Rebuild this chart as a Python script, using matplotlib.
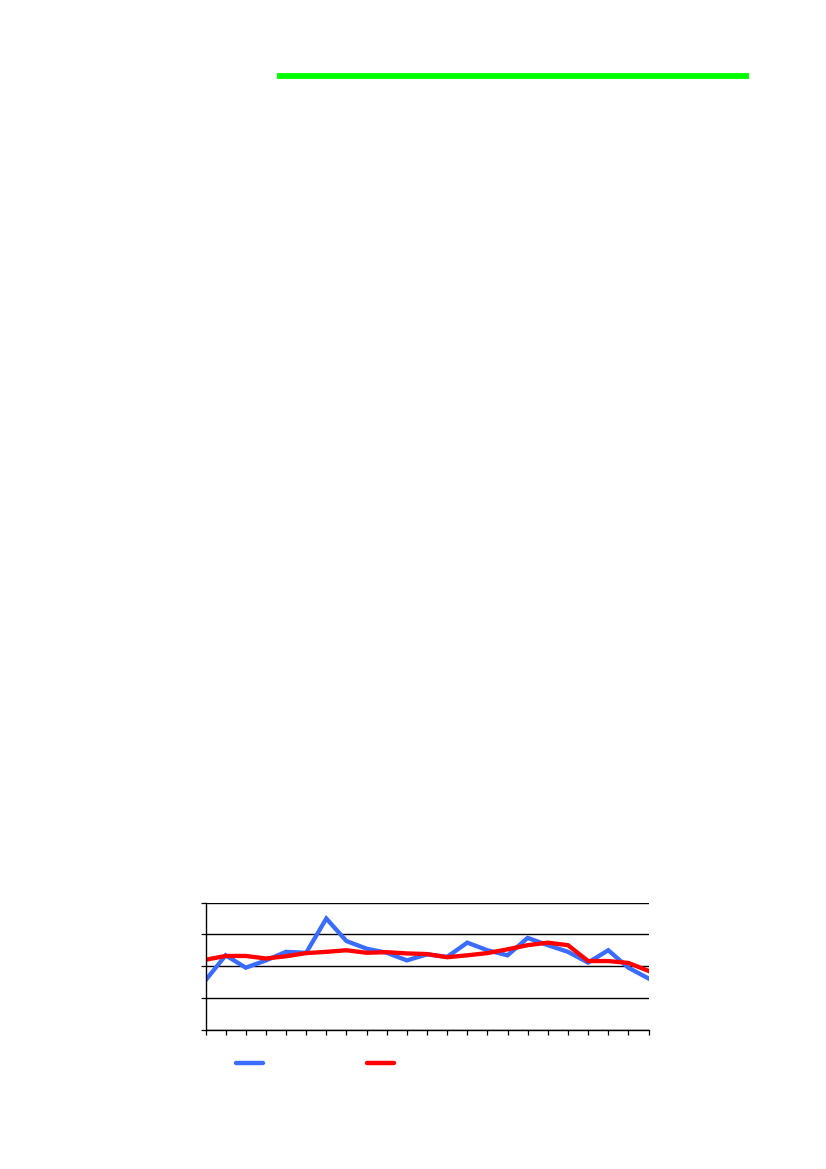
import numpy as np
import matplotlib
matplotlib.use("Agg")
import matplotlib.pyplot as plt
from matplotlib.lines import Line2D

# values (axis runs 0..4)
periods = list(range(23))
series_blue = [1.55, 2.34, 1.95, 2.18, 2.45, 2.42, 3.50, 2.79, 2.55, 2.42, 2.18, 2.37,
               2.29, 2.74, 2.50, 2.34, 2.89, 2.66, 2.45, 2.11, 2.50, 1.95, 1.61]
series_red = [2.20, 2.32, 2.32, 2.24, 2.31, 2.41, 2.45, 2.50, 2.42, 2.44, 2.40, 2.38,
              2.28, 2.34, 2.41, 2.53, 2.66, 2.74, 2.66, 2.16, 2.16, 2.10, 1.85]
y_ticks = [0, 1, 2, 3, 4]

W, H = 826, 1169
fig = plt.figure(figsize=(W / 100, H / 100), dpi=100)
fig.patch.set_facecolor("white")

# green rule near the top of the page
fig.add_artist(Line2D([277 / W, 749 / W], [1 - 76 / H, 1 - 76 / H],
                      color="#00ff00", lw=4.2, solid_capstyle="butt"))

ax = fig.add_axes([205.5 / W, 1 - 1029.5 / H, 443 / W, 126.8 / H])
ax.plot(periods, series_blue, color="#3a6cff", lw=3.1, solid_joinstyle="miter")
ax.plot(periods, series_red, color="#ff0000", lw=3.1, solid_joinstyle="miter")

ax.set_xlim(0, 22)
ax.set_ylim(0, 4)
ax.set_xticks(periods)
ax.set_yticks(y_ticks)
ax.set_xticklabels([])
ax.set_yticklabels([])
ax.tick_params(axis="both", direction="out", length=3.5, width=0.9, color="black")
for s in ["top", "right"]:
    ax.spines[s].set_visible(False)
for s in ["left", "bottom"]:
    ax.spines[s].set_color("black")
    ax.spines[s].set_linewidth(1.0)
ax.yaxis.grid(True, color="black", lw=1.0)
ax.set_axisbelow(True)

handles = [Line2D([], [], color="#3a6cff", lw=3.2, solid_capstyle="round"),
           Line2D([], [], color="#ff0000", lw=3.2, solid_capstyle="round")]
fig.legend(handles, ["", ""], ncol=2, frameon=False, loc="center left",
           bbox_to_anchor=(236 / W, 1 - 1064 / H), borderpad=0, borderaxespad=0,
           handlelength=1.94, handletextpad=0, columnspacing=7.48, fontsize=10)

fig.savefig("out.png", dpi=100, facecolor="white")
